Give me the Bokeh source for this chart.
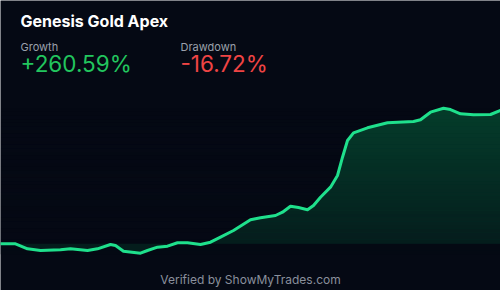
from bokeh.plotting import figure
from bokeh.models import Range1d, Label
from bokeh.embed import file_html
from bokeh.resources import INLINE

# ---- data ----
days = [0, 15, 27, 40, 60, 70, 87, 97, 110, 115, 123, 140, 147, 157, 167, 177, 187,
        200, 210, 220, 233, 250, 260, 275, 282, 290, 298, 307, 313, 320, 330, 337,
        342, 347, 353, 367, 387, 413, 420, 430, 443, 450, 460, 473, 490, 500]
growth = [0.0, 0.0, -9.8, -13.1, -11.7, -9.8, -13.1, -9.8, -1.4, -3.3, -14.5, -18.4,
          -13.1, -6.6, -4.7, 2.0, 2.0, -1.4, 3.1, 12.9, 26.0, 46.9, 50.8, 55.3, 61.8,
          73.5, 71.0, 66.5, 74.9, 91.1, 110.7, 133.5, 169.3, 201.9, 217.0, 226.8,
          236.6, 239.1, 242.4, 257.3, 265.1, 262.5, 254.2, 252.2, 252.8, 260.6]

title_text = "Genesis Gold Apex"
growth_label = "Growth"
growth_value = "+260.59%"
dd_label = "Drawdown"
dd_value = "-16.72%"
footer = "Verified by ShowMyTrades.com"

BG = "#050914"
W, H = 500, 290
K = 1.955          # % per pixel
BASE_PX = 243.3    # pixel row of 0%


def py(pix):
    return (BASE_PX - pix) * K


p = figure(width=W, height=H, output_backend="svg", toolbar_location=None,
           x_range=Range1d(0, 500), y_range=Range1d(py(H), py(0)),
           min_border=0, background_fill_color=BG, border_fill_color=BG)
p.axis.visible = False
p.grid.visible = False
p.outline_line_color = None

# area between line and baseline
p.varea(x=days, y1=[0] * len(days), y2=growth, fill_color="#053d2b", fill_alpha=1.0)

# gradient simulation: background-coloured bands of increasing alpha
top_v = max(growth)
bot_v = min(growth) - 2
n = 40
lefts, rights, tops, bots, alphas = [], [], [], [], []
step = (top_v - bot_v) / n
for i in range(n):
    t = top_v - i * step
    b = t - step
    frac = min(1.0, (top_v - (t + b) / 2) / top_v)
    lefts.append(0); rights.append(500); tops.append(t); bots.append(b)
    alphas.append(0.62 * frac)
p.quad(left=lefts, right=rights, top=tops, bottom=bots, fill_color=BG,
       fill_alpha=alphas, line_color=None)

p.line(days, growth, line_color="#1fe08c", line_width=3, line_join="round",
       line_cap="round")

FONT = "Inter"


def lab(x, ypix, text, size, color, style="normal", align="left"):
    p.add_layout(Label(x=x, y=py(ypix - 0.28 * size), text=text, text_font=FONT,
                       text_font_size=f"{size}px", text_color=color,
                       text_font_style=style, text_align=align,
                       text_baseline="alphabetic"))


lab(20, 25, title_text, 16, "#ffffff", "bold")
lab(20, 50, growth_label, 11, "#9aa0ab")
lab(180, 50, dd_label, 11, "#9aa0ab")
lab(20, 69.5, growth_value, 22.5, "#22c55e")
lab(180, 69.5, dd_value, 22.5, "#ef4444")
lab(250, 282, footer, 12, "#8a909c", align="center")

open("out.html", "w").write(file_html(p, INLINE))
